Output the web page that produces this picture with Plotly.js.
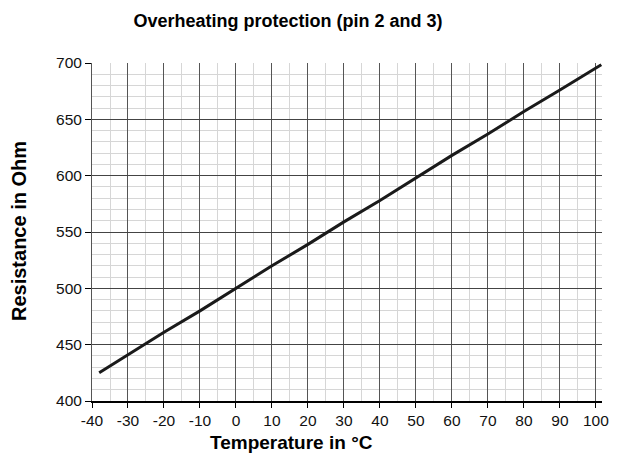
<!DOCTYPE html>
<html>
<head>
<meta charset="utf-8">
<script src="https://cdn.plot.ly/plotly-3.0.1.min.js"></script>
<style>html,body{margin:0;padding:0;background:#fff;}#chart{width:624px;height:465px;}</style>
</head>
<body>
<div id="chart"></div>
<script>
const temperature = [-38, -30, -20, -10, 0, 10, 20, 30, 40, 50, 60, 70, 80, 90, 100, 101.5];
const resistance = [425, 441, 461, 480, 500, 520, 539, 559, 578, 598, 618, 637, 657, 676, 696, 698.5];
const xTicks = [-40, -30, -20, -10, 0, 10, 20, 30, 40, 50, 60, 70, 80, 90, 100];
const yTicks = [400, 450, 500, 550, 600, 650, 700];

const font = "Liberation Sans, Arial, sans-serif";
Plotly.newPlot('chart', [{
  x: temperature, y: resistance, type: 'scatter', mode: 'lines',
  line: {color: '#1a1a1a', width: 3}, hoverinfo: 'skip'
}], {
  width: 624, height: 465,
  margin: {l: 92, r: 22, t: 63, b: 64},
  paper_bgcolor: '#fff', plot_bgcolor: '#fff',
  showlegend: false,
  title: {text: '<b>Overheating protection (pin 2 and 3)</b>', font: {family: font, size: 18, color: '#000'},
    x: 0.4615, xref: 'container', xanchor: 'center', y: 0.955, yref: 'container', yanchor: 'middle'},
  annotations: [
    {text: '<b>Temperature in °C</b>', xref: 'paper', yref: 'paper', x: (291 - 92) / 510, y: -(442 - 401) / 338,
     xanchor: 'center', yanchor: 'middle', showarrow: false, font: {family: font, size: 19, color: '#000'}},
    {text: '<b>Resistance in Ohm</b>', xref: 'paper', yref: 'paper', x: -(92 - 19) / 510, y: (401 - 231) / 338,
     xanchor: 'center', yanchor: 'middle', textangle: -90, showarrow: false, font: {family: font, size: 20, color: '#000'}}
  ],
  xaxis: {
    range: [-40, 101.7], tickvals: xTicks, ticktext: xTicks.map(String),
    ticks: 'outside', ticklen: 5, tickcolor: '#000', tickwidth: 1,
    showline: true, linecolor: '#000', linewidth: 1.5,
    showgrid: true, gridcolor: '#555', gridwidth: 1, zeroline: false,
    minor: {dtick: 5, tick0: 0, showgrid: true, gridcolor: '#d6d6d6', gridwidth: 1, ticks: ''},
    tickfont: {family: font, size: 15.5, color: '#111'}
  },
  yaxis: {
    range: [400, 700], tickvals: yTicks, ticktext: yTicks.map(String),
    ticks: 'outside', ticklen: 6, tickcolor: '#000', tickwidth: 1,
    showline: true, linecolor: '#555', linewidth: 1,
    showgrid: true, gridcolor: '#444', gridwidth: 1, zeroline: false,
    minor: {dtick: 10, tick0: 400, showgrid: true, gridcolor: '#d6d6d6', gridwidth: 1, ticks: ''},
    tickfont: {family: font, size: 15.5, color: '#111'}
  }
}, {displayModeBar: false, staticPlot: true});
</script>
</body>
</html>
